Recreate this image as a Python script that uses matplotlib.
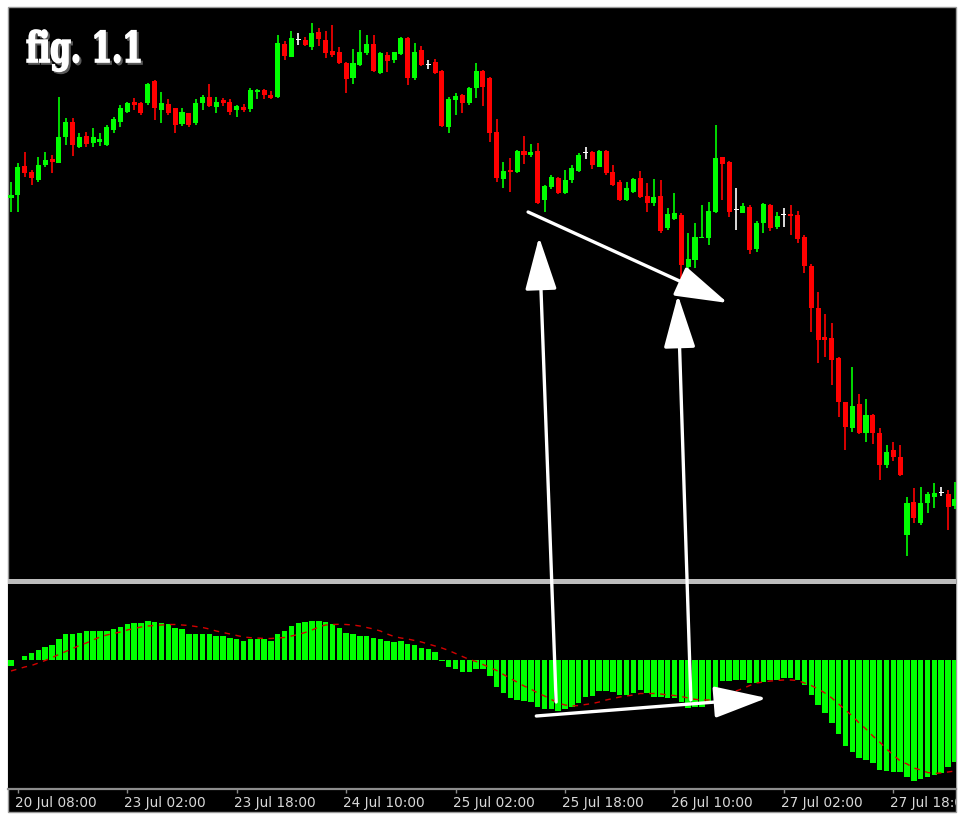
import matplotlib
matplotlib.use("Agg")
import numpy as np
import matplotlib.pyplot as plt
from matplotlib.patches import Rectangle, ConnectionPatch, PathPatch
from matplotlib.textpath import TextPath
from matplotlib.font_manager import FontProperties
from matplotlib.transforms import Affine2D, ScaledTranslation

# hourly candles, price in chart points (higher = up)
opens = [402, 405, 434, 428, 420, 435, 441, 437, 463, 478, 453, 464, 457, 458, 455, 470, 478, 488, 498, 497,
         497, 519, 490, 496, 492, 476, 487, 477, 497, 503, 493, 500, 498, 490, 493, 491, 508, 510, 505, 503,
         556, 543, 560, 560, 553, 568, 560, 549, 548, 537, 522, 535, 547, 556, 527, 545, 540, 546, 562, 522,
         550, 535, 538, 529, 473, 500, 505, 497, 512, 529, 522, 468, 421, 430, 428, 449, 445, 449, 400, 413,
         422, 407, 420, 429, 447, 448, 433, 449, 428, 418, 400, 408, 422, 404, 397, 404, 372, 381, 385, 333,
         340, 362, 362, 388, 443, 438, 390, 387, 393, 351, 377, 395, 373, 385, 386, 385, 363, 334, 292, 263,
         262, 242, 198, 172, 196, 167, 185, 167, 135, 150, 143, 65, 98, 77, 97, 103, 107, 106, 94]
highs = [418, 437, 448, 430, 443, 448, 445, 503, 482, 482, 467, 468, 472, 467, 475, 483, 495, 498, 502, 498,
         517, 520, 508, 501, 492, 492, 487, 501, 505, 516, 503, 502, 501, 495, 496, 512, 511, 511, 509, 565,
         559, 569, 567, 563, 577, 572, 569, 575, 553, 538, 551, 570, 565, 565, 548, 548, 548, 563, 563, 557,
         554, 540, 541, 530, 503, 507, 506, 513, 537, 530, 523, 481, 438, 442, 450, 464, 456, 457, 415, 425,
         423, 430, 435, 447, 453, 449, 450, 450, 435, 420, 418, 422, 429, 417, 421, 420, 392, 407, 387, 367,
         377, 395, 398, 475, 443, 439, 412, 397, 395, 379, 397, 396, 388, 392, 395, 389, 365, 336, 308, 286,
         277, 243, 198, 233, 206, 201, 186, 172, 155, 158, 155, 103, 112, 113, 108, 117, 113, 110, 118]
lows = [388, 388, 423, 415, 418, 433, 427, 437, 455, 444, 452, 453, 453, 454, 454, 467, 473, 487, 490, 485,
        495, 480, 477, 485, 467, 474, 473, 475, 490, 493, 487, 494, 485, 483, 488, 488, 501, 501, 501, 502,
        540, 543, 555, 554, 550, 554, 542, 543, 536, 507, 516, 534, 545, 528, 526, 528, 537, 545, 515, 520,
        534, 531, 526, 473, 467, 485, 487, 495, 502, 494, 458, 418, 412, 408, 427, 436, 443, 396, 388, 411,
        406, 406, 417, 428, 441, 431, 433, 425, 414, 399, 399, 407, 402, 388, 394, 367, 370, 380, 320, 330,
        332, 362, 355, 387, 400, 383, 370, 387, 346, 348, 367, 369, 371, 373, 365, 357, 327, 268, 237, 243,
        215, 183, 150, 168, 166, 158, 156, 120, 132, 139, 124, 44, 77, 75, 87, 92, 104, 70, 91]
closes = [405, 433, 427, 422, 435, 440, 438, 463, 478, 455, 463, 456, 463, 461, 473, 481, 492, 497, 495, 487,
          516, 492, 497, 487, 475, 488, 475, 497, 503, 494, 498, 497, 488, 494, 490, 510, 510, 505, 502, 557,
          544, 562, 560, 555, 567, 561, 547, 545, 537, 521, 537, 548, 556, 529, 547, 539, 548, 562, 522, 548,
          535, 535, 527, 474, 501, 504, 497, 512, 529, 513, 467, 422, 429, 428, 449, 445, 448, 397, 414, 423,
          407, 420, 432, 445, 447, 435, 449, 427, 415, 400, 412, 421, 403, 397, 403, 369, 386, 387, 335, 341,
          363, 363, 389, 442, 436, 388, 390, 394, 350, 377, 396, 372, 384, 385, 384, 361, 334, 292, 260, 260,
          240, 198, 173, 194, 167, 185, 167, 135, 148, 143, 125, 97, 82, 97, 106, 107, 107, 93, 101]

# MACD histogram and its signal line
macd = [-6, 0.5, 4, 7.3, 10, 13.3, 15.3, 20.7, 26, 26, 27.3, 29, 29, 29, 29, 31, 32.7, 35.7, 37.3, 37.3,
        39.3, 38, 37.3, 35.7, 31.7, 30.7, 26, 26, 26, 26, 24.3, 24.3, 22.3, 20.7, 19, 20.7, 20.7, 20.7, 19, 25.7,
        29, 34.3, 37.3, 38.3, 39.3, 39.3, 38.3, 35.7, 32.3, 27.3, 25.7, 24.3, 24.3, 22.3, 20.7, 19, 18.3, 19, 15.7, 15,
        12.3, 11, 8.3, -1, -6.7, -9.3, -11.7, -11.7, -9, -9.3, -16, -26.7, -33.3, -38.3, -40, -41, -41.7, -46.7, -49.3, -49.3,
        -51, -49.3, -46.7, -42.7, -37.3, -36, -30.7, -30.7, -31.7, -35, -35, -32.7, -30, -33.3, -36.7, -36.7, -37.7, -38.3, -41.7, -48.3,
        -46.7, -46.7, -41.7, -30, -21, -21, -20, -20, -23.3, -23.3, -21.7, -20, -20, -18.3, -18.3, -20, -25, -35, -45, -53.3,
        -63.3, -74, -86, -91.7, -98.3, -100, -103.3, -110, -111, -111.7, -111.7, -116.7, -120.7, -119.3, -117.3, -115, -113.3, -106.7, -101.7]
signal = [-11, -9, -7, -5.5, -3, -0.5, 2.5, 5.5, 8.5, 11.5, 14.5, 17, 20, 23, 25, 26.5, 28, 30, 31.5, 33,
          34, 34.5, 35, 35.5, 35.5, 35, 34.5, 33.5, 32.5, 31, 29, 27.5, 26, 24.5, 23, 22.3, 22, 21.5, 21.5, 22,
          22.5, 24, 25.5, 27.5, 30, 33, 35, 35.5, 35.7, 35.5, 35, 34, 32.5, 31, 29, 26, 23.5, 22, 21, 19.5,
          18, 16, 14, 12, 9.5, 6.5, 3.5, 0.5, -1.5, -4.5, -7.5, -10.5, -14.5, -18.3, -22, -26, -29, -33, -36, -39.5,
          -43, -45, -46, -45.5, -44.5, -43.5, -42, -40, -38.5, -37, -36, -35, -33.5, -33.5, -33.5, -34, -35, -35.5, -36.5, -38,
          -39.3, -40, -40, -39, -36, -34, -31, -28.5, -25.5, -23, -22, -21, -20.5, -20, -20, -20.5, -23, -25.5, -29, -33,
          -38, -44, -50, -56, -63, -69, -76, -82, -89, -95, -101, -104, -108, -110, -112.5, -113.5, -113, -112, -111]

tick_bars = [1, 17, 33, 49, 65, 81, 97, 113, 129]
tick_labels = ["20 Jul 08:00", "23 Jul 02:00", "23 Jul 18:00", "24 Jul 10:00", "25 Jul 02:00",
               "25 Jul 18:00", "26 Jul 10:00", "27 Jul 02:00", "27 Jul 18:00"]

# annotation arrows: (bar, value) pairs, tail -> head
arrow_price = ((75.6, 388), (104.8, 297))
arrow_macd = ((76.8, -56), (110.5, -38))
arrows_up = [((79.7, -42), (77.2, 363)), ((99.4, -40), (97.5, 305))]

UP, DOWN, DOJI = "#00ff00", "#ff0000", "#ffffff"
W, H = 958, 816

fig = plt.figure(figsize=(W / 100, H / 100), dpi=100, facecolor="white")
frame = Rectangle((8 / W, 4 / H), 948 / W, 805 / H, transform=fig.transFigure,
                  facecolor="black", edgecolor="#9a9a9a", lw=1, zorder=-5)
fig.add_artist(frame)

ax = fig.add_axes([8 / W, (H - 578) / H, 948 / W, 570 / H], facecolor="black")
axb = fig.add_axes([8 / W, (H - 789) / H, 948 / W, 205 / H], facecolor="black")

idx = np.arange(len(opens))
o, c = np.array(opens), np.array(closes)
colors = np.where(c > o, UP, np.where(c < o, DOWN, DOJI))

ax.vlines(idx, lows, highs, colors=colors, lw=1.2)
ax.bar(idx, np.maximum(np.abs(c - o), 1.2), bottom=np.minimum(o, c), width=0.74, color=colors, lw=0)
ax.set_xlim(-0.44, 138.16)
ax.set_ylim(22, 592)
ax.axis("off")

axb.bar(idx, macd, width=0.8, color=UP, lw=0)
axb.plot(idx, signal, color="#d40000", lw=1, ls=(0, (4, 4)))
axb.set_xlim(-0.44, 138.16)
axb.set_ylim(-129, 76)
for s in ["top", "left", "right"]:
    axb.spines[s].set_visible(False)
axb.spines["bottom"].set_color("#8c8c8c")
axb.spines["bottom"].set_linewidth(1.6)
axb.set_yticks([])
axb.set_xticks(tick_bars)
axb.set_xticklabels(tick_labels, fontsize=9.8, ha="left")
axb.tick_params(axis="x", colors="#8c8c8c", length=3, width=1, pad=2, labelcolor="#d8d8d8")
for lab in axb.get_xticklabels():
    lab.set_transform(lab.get_transform() + ScaledTranslation(-3 / 100, 0, fig.dpi_scale_trans))
    lab.set_clip_path(frame)

# separator between the panels
fig.add_artist(Rectangle((8 / W, (H - 584) / H), 948 / W, 5 / H, transform=fig.transFigure,
                         facecolor="#bdbdbd", edgecolor="none", zorder=3))

astyle = "-|>,head_length=1.5,head_width=0.45"
for (xa, ya), (xb, yb), axa, axh in [(arrow_price[0], arrow_price[1], ax, ax),
                                     (arrow_macd[0], arrow_macd[1], axb, axb),
                                     (arrows_up[0][0], arrows_up[0][1], axb, ax),
                                     (arrows_up[1][0], arrows_up[1][1], axb, ax)]:
    fig.add_artist(ConnectionPatch((xa, ya), (xb, yb), coordsA=axa.transData, coordsB=axh.transData,
                                   arrowstyle=astyle, mutation_scale=22, color="white", lw=2.4,
                                   shrinkA=0, shrinkB=0, zorder=5))

# title
tp = TextPath((0, 0), "fig. 1.1", size=30, prop=FontProperties(family="DejaVu Serif", weight="bold"))
bb = tp.get_extents()
base = Affine2D().translate(-bb.x0, 0).scale(113 / bb.width, 32 / bb.y1)
fig.add_artist(PathPatch(tp, transform=base + Affine2D().translate(29, H - 64),
                         facecolor="#5a5a5a", edgecolor="#5a5a5a", lw=1.2, zorder=6))
fig.add_artist(PathPatch(tp, transform=base + Affine2D().translate(27, H - 62),
                         facecolor="white", edgecolor="white", lw=1.2, zorder=7))

fig.savefig("out.png", dpi=100, facecolor="white")
